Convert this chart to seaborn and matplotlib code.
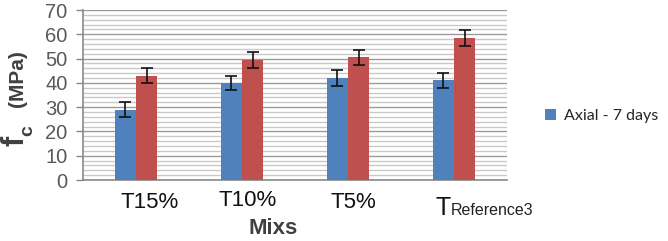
import matplotlib
matplotlib.use("Agg")
import matplotlib.pyplot as plt
import seaborn as sns
import pandas as pd
import numpy as np

# ---- data ----
mixes = ["T15%", "T10%", "T5%", "TReference3"]
series = ["Axial - 7 days", "Axial - 28 days"]
axial_7 = [29.0, 40.0, 42.0, 41.0]
axial_28 = [43.0, 49.5, 50.5, 58.5]
err_7 = [3.2, 3.0, 3.1, 3.2]
err_28 = [3.1, 3.2, 3.1, 3.2]
yticks = [0, 10, 20, 30, 40, 50, 60, 70]

df = pd.DataFrame({
    "Mix": mixes * 2,
    "Series": [series[0]] * 4 + [series[1]] * 4,
    "fc": axial_7 + axial_28,
    "err": err_7 + err_28,
})

sns.set_theme(style="white")
FONT = ["Liberation Sans", "DejaVu Sans"]
plt.rcParams["font.family"] = FONT
plt.rcParams["font.sans-serif"] = ["Liberation Sans", "DejaVu Sans"]

W, H = 668, 241
fig = plt.figure(figsize=(W / 100, H / 100), dpi=100)
ax = fig.add_axes([83 / W, 1 - 180 / H, (507 - 83) / W, (180 - 10) / H])

palette = {series[0]: "#4F81BD", series[1]: "#C0504D"}
sns.barplot(data=df, x="Mix", y="fc", hue="Series", order=mixes,
            hue_order=series, palette=palette, width=0.4, errorbar=None,
            saturation=1, ax=ax, zorder=3, linewidth=0)

# error bars from bar patches
bars = [p for p in ax.patches if p.get_height() > 0]
bars_sorted = sorted(bars, key=lambda p: p.get_x())
errs = []
for i in range(4):
    errs += [err_7[i], err_28[i]]
xs = [p.get_x() + p.get_width() / 2 for p in bars_sorted]
hs = [p.get_height() for p in bars_sorted]
ax.errorbar(xs, hs, yerr=errs, fmt="none", ecolor="#111111",
            elinewidth=1.2, capsize=4.5, capthick=1.2, zorder=4)

ax.set_ylim(0, 70)
ax.set_xlim(-0.5, 3.5)
ax.set_yticks(yticks)
ax.set_yticks(np.arange(0, 71, 2), minor=True)
ax.grid(axis="y", which="minor", color="#c9c9c9", lw=1.0, zorder=0)
ax.grid(axis="y", which="major", color="#9a9a9a", lw=1.0, zorder=1)
ax.grid(axis="x", visible=False)
ax.tick_params(axis="y", which="major", length=5, width=1, color="#888888",
               labelsize=14.5, labelcolor="#595959", pad=6, left=True)
ax.tick_params(axis="y", which="minor", length=0)
ax.tick_params(axis="x", length=0)
ax.set_xticks(range(4))
ax.set_xticklabels([""] * 4)
for lab in ax.get_yticklabels():
    lab.set_fontfamily(FONT)
for s in ["top", "right"]:
    ax.spines[s].set_visible(False)
for s in ["left", "bottom"]:
    ax.spines[s].set_color("#8a8a8a")
    ax.spines[s].set_linewidth(1.2)
ax.set_xlabel("")
ax.set_ylabel("")

def fx(px):
    return px / W
def fy(py):
    return 1 - py / H

kw = dict(family=FONT)
fig.text(fx(150), fy(203), mixes[0], ha="center", va="center", fontsize=16, color="#111111", **kw)
fig.text(fx(248), fy(201), mixes[1], ha="center", va="center", fontsize=16, color="#111111", **kw)
fig.text(fx(353), fy(203), mixes[2], ha="center", va="center", fontsize=16, color="#111111", **kw)
fig.text(fx(436), fy(215), "T", ha="left", va="baseline", fontsize=18, color="#111111", **kw)
fig.text(fx(451), fy(215), "Reference3", ha="left", va="baseline", fontsize=11.5, color="#222222", **kw)

fig.text(fx(273), fy(228), "Mixs", ha="center", va="center", fontsize=16,
         fontweight="bold", color="#404040", **kw)

# y label: f_c (MPa)
fig.text(fx(16), fy(141), "f", rotation=90, ha="center", va="center", fontsize=22,
         fontweight="bold", color="#404040", **kw)
fig.text(fx(28), fy(131), "c", rotation=90, ha="center", va="center", fontsize=14,
         fontweight="bold", color="#404040", **kw)
fig.text(fx(18), fy(79), "(MPa)", rotation=90, ha="center", va="center", fontsize=15,
         fontweight="bold", color="#404040", **kw)

# legend (first series only)
h, l = ax.get_legend_handles_labels()
if ax.get_legend():
    ax.get_legend().remove()
leg = fig.legend(h[:1], l[:1], loc="center left", bbox_to_anchor=(fx(545), fy(116)),
                 frameon=False, handlelength=0.7, handleheight=0.7, handletextpad=0.5,
                 prop={"family": "Lato", "size": 11.5}, borderaxespad=0, borderpad=0)

fig.savefig("out.png", dpi=100)
